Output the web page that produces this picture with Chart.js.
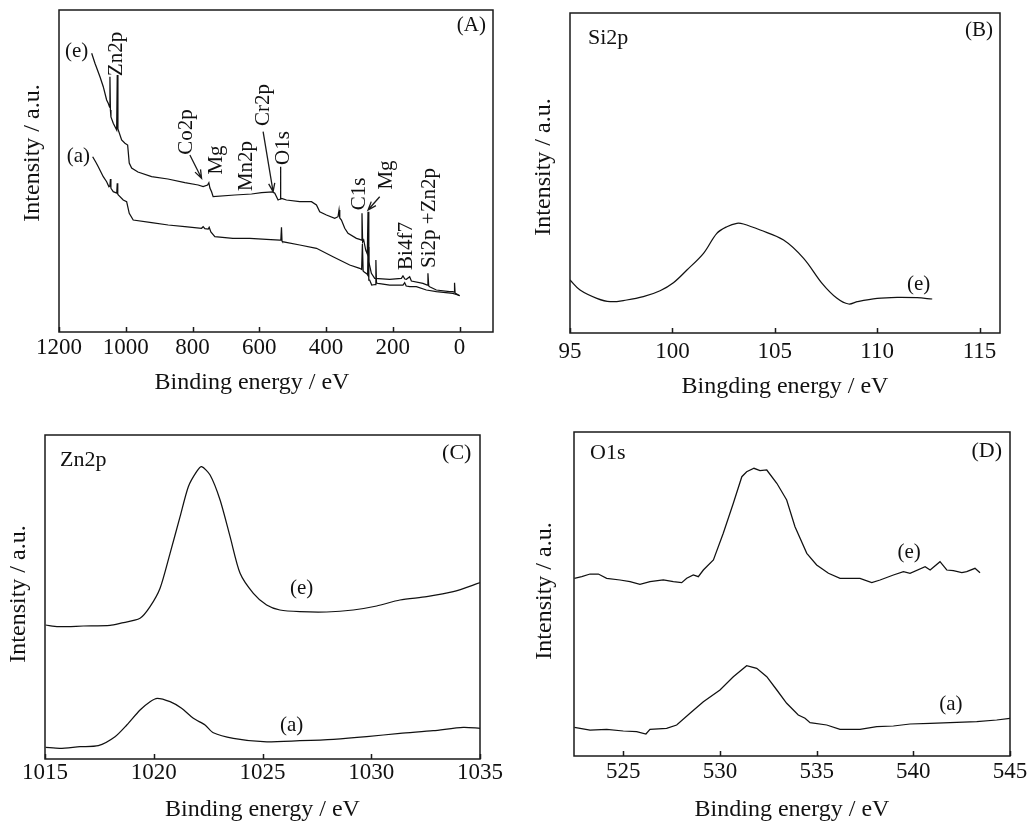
<!DOCTYPE html>
<html><head><meta charset="utf-8">
<script src="https://cdn.jsdelivr.net/npm/chart.js@4.4.1/dist/chart.umd.min.js"></script>
<style>
html,body{margin:0;padding:0;background:#fff;overflow:hidden;width:1027px;height:824px;position:relative;}
canvas{position:absolute;}
</style></head><body>
<canvas id="cA" width="510" height="402" style="left:0;top:0"></canvas>
<canvas id="cB" width="517" height="402" style="left:510px;top:0"></canvas>
<canvas id="cC" width="510" height="424" style="left:0;top:400px"></canvas>
<canvas id="cD" width="540" height="424" style="left:510px;top:400px"></canvas>
<script>
const FONT = "'Liberation Serif','Times New Roman',serif";

// ---------- Panel A: survey spectra ----------
const A_TICKS = [1200, 1000, 800, 600, 400, 200, 0];
const A_E_X = [1102.1,1092.3,1077.3,1067.4,1057.3,1052.5,1048.5,1047.4,1046,1044.4,1037.5,1027.3,1025.5,1023.5,1012.4,1002.5,994.4,989.6,982.4,963.6,922.6,873.8,823,783.1,768.2,755,751.1,748,743,738.3,673.3,623.3,593.4,559.6,553.6,543.8,537.5,536.6,535.5,533.6,518.6,478.8,443.8,428.8,419,398.9,374.1,364.2,361.2,359,354,344.1,334.3,309.1,299.3,294,292.4,290.5,287.3,281.3,276.5,274.4,272,269.3,264.3,254.4,209.5,174.5,169.7,164,159.5,149.6,144.5,109.8,97,94.9,92.5,89.8,69.7,30,20.2,16.5,15.2,13.5,12.2,0];
const A_E_Y = [278.7,268.7,255.3,245.3,232,228.7,225,255.3,222,215,208.7,202,257,203,192,188.7,187,169,164,160,155.3,153,149.3,147,145.3,147,149.3,144,140.3,135.3,137,138,139.3,140,138.7,132,133,165.3,134,133.7,132,130.3,130.3,127,120.3,117,113.7,115.3,122,114,112,103.7,98.7,93.7,92.7,92,118.7,90,92,82,78,120.3,70,66,58.7,53.7,52.7,53.7,56,53,52.7,55.3,51,48.7,47,58.7,46,45.3,42,40.3,40.3,40,49.3,39,38.7,36.3];
const A_A_X = [1099.2,1090,1082.4,1067.4,1057.3,1050.4,1047.5,1045.9,1044.5,1042.9,1037.5,1027,1025.5,1024,1022.5,1007.6,997.4,989.6,977.7,922.6,872.9,823,773,768.2,763.1,753,750.2,745.1,733.2,679.3,628.4,578.5,538.7,535.5,533.6,532,530.6,478.8,428.8,379.2,329.2,299.3,293.5,291.2,289,285.8,277.4,275.5,274.4,272,269.5,263.3,253,250.8,249,244.5,209.5,169.7,164.6,160,149.6,129.6,99.6,69.7,20.2,5.1,0];
const A_A_Y = [175.3,170,165.3,155.3,150.3,145.3,146,153,144,143,140.3,139,148.7,138,137,132,130.3,118.7,112,109.3,107,105.3,103.7,105.3,103.3,103,104.7,100,95.3,93.7,93.7,92.7,92,92,104.7,91,90.3,87,83.7,75.3,67,63.7,62.5,88,61,60,58,57,85,52,52,47,47.5,72,49,48.7,47,47,49.3,46,45.3,45.3,42,40.3,38.7,37,36.3];
const A_LBL_TEXT = ['Zn2p','Co2p','Mg','Mn2p','Cr2p','O1s','C1s','Mg','Bi4f7','Si2p +Zn2p'];
const A_LBL_X = [1027.3,817.9,728.1,638.3,588.6,528.8,301.4,219.4,159.5,89.8];
const A_LBL_Y = [278,200,172,166,227,184,138,157,86,114];
const A_ARROWS = [[808,177,773,153.7],[588.6,200.3,558.7,140.3],[239.4,135.3,274.4,122]];

// ---------- Panel B: Si2p ----------
const B_TICKS = [95, 100, 105, 110, 115];
const B_E_X = [95.0,95.49,96.31,96.96,97.77,98.58,99.40,100.05,100.71,101.52,102.17,102.66,103.15,103.47,104.29,105.43,106.41,107.31,108.04,108.61,109.02,110.0,110.98,111.95,112.69];
const B_E_Y = [53,43,34.7,31.3,33,36.3,42.3,50.3,63,79.7,99.7,106.3,109.7,109,103,93,74.7,49.7,34.7,29,31.3,34.7,35.7,35.3,34];

// ---------- Panel C: Zn2p ----------
const C_TICKS = [1015, 1020, 1025, 1030, 1035];
const C_E_X = [1015.03,1015.61,1016.76,1017.99,1018.45,1019.37,1019.83,1020.29,1020.75,1021.21,1021.59,1021.97,1022.20,1022.59,1023.05,1023.51,1023.97,1024.58,1025.19,1025.80,1026.72,1027.95,1029.17,1030.25,1031.32,1032.55,1033.77,1035.0];
const C_E_Y = [134,132.3,133,133.7,135.7,140.7,152.3,170.7,205.7,242.3,272.3,287.3,292.3,284,259,222.3,185.7,165.7,154,149,147.3,147,149,153,159,162.3,167.3,176.3];
const C_A_X = [1015.03,1015.69,1016.61,1017.45,1018.22,1018.76,1019.37,1019.83,1020.16,1020.75,1021.28,1021.82,1022.36,1022.74,1023.66,1025.04,1026.72,1028.26,1029.79,1031.32,1032.85,1034.23,1035.0];
const C_A_Y = [11.7,10.7,12.3,13.3,22.3,34,49,57.3,60.7,57.3,50.7,40.7,34,26.3,20.7,17.3,18.3,19.7,22.3,25.7,28.3,31.7,30.7];

// ---------- Panel D: O1s ----------
const D_TICKS = [525, 530, 535, 540, 545];
const D_E_X = [522.47,522.85,523.28,523.71,524.14,524.83,525.35,525.86,526.38,527.07,527.59,528.02,528.28,528.62,528.88,529.14,529.66,530.17,530.69,531.13,531.38,531.76,532.07,532.42,532.94,533.45,533.88,534.49,535.0,535.61,536.21,537.24,537.85,538.28,538.97,539.49,539.83,540.61,540.87,541.38,541.73,542.07,542.51,542.76,543.19,543.45];
const D_E_Y = [177.7,179.3,182,182,177.7,176,174.3,171.7,174.3,176,174.3,173.3,177.7,181,179.3,186,196,222.7,252.7,279.3,284.3,287.7,285.3,286,272.7,256,229.3,202.7,191,182.7,177.7,177.7,173.3,176,181,184.3,182.7,189.3,186,194.3,186,185.3,183.3,184.3,187.7,183.3];
const D_A_X = [522.47,523.28,524.14,525.0,525.69,526.17,526.38,527.24,527.76,528.45,529.14,530.0,530.69,531.38,531.9,532.42,532.94,533.45,534.05,534.4,534.66,535.52,536.21,537.24,538.11,538.97,539.83,540.87,541.9,543.28,544.31,545.0];
const D_A_Y = [28.7,26,26.7,25,24.3,22,26.7,27.7,31,42.7,54.3,66,79.3,90.3,87.7,79.3,66,52.7,41,37.7,33.3,31,26.7,26.7,29.3,30,32,32.7,33.3,34.3,36,37.7];

const frame = {
  id: 'frame',
  afterDatasetsDraw(chart, args, opts) {
    const {ctx, chartArea: a, scales: {x, y}} = chart;
    ctx.save();
    ctx.strokeStyle = '#1a1a1a';
    ctx.lineWidth = 1.5;
    ctx.strokeRect(a.left, a.top, a.right - a.left, a.bottom - a.top);
    ctx.beginPath();
    x.ticks.forEach(t => {
      const px = Math.round(x.getPixelForValue(t.value)) + 0.5;
      ctx.moveTo(px, a.bottom); ctx.lineTo(px, a.bottom - 5);
    });
    ctx.stroke();
    ctx.fillStyle = '#111';
    ctx.textBaseline = 'middle';
    (opts.labels || []).forEach(l => {
      ctx.save();
      ctx.translate(x.getPixelForValue(l.x), y.getPixelForValue(l.y));
      if (l.rot) ctx.rotate(-Math.PI / 2);
      ctx.textAlign = l.align || 'center';
      ctx.font = (l.size || 21) + 'px ' + FONT;
      ctx.fillText(l.text, 0, 0);
      ctx.restore();
    });
    ctx.lineWidth = 1.3;
    (opts.arrows || []).forEach(ar => {
      const x1 = x.getPixelForValue(ar[0]), y1 = y.getPixelForValue(ar[1]);
      const x2 = x.getPixelForValue(ar[2]), y2 = y.getPixelForValue(ar[3]);
      const ang = Math.atan2(y2 - y1, x2 - x1);
      ctx.beginPath();
      ctx.moveTo(x1, y1); ctx.lineTo(x2, y2);
      ctx.moveTo(x2 - 9 * Math.cos(ang - 0.35), y2 - 9 * Math.sin(ang - 0.35));
      ctx.lineTo(x2, y2);
      ctx.lineTo(x2 - 9 * Math.cos(ang + 0.35), y2 - 9 * Math.sin(ang + 0.35));
      ctx.stroke();
    });
    ctx.restore();
  }
};

function series(xs, ys, tension) {
  return {
    data: xs.map((v, i) => ({x: v, y: ys[i]})),
    borderColor: '#111', borderWidth: 1.25, pointRadius: 0, tension: tension || 0, fill: false
  };
}

function makeChart(id, c) {
  return new Chart(document.getElementById(id), {
    type: 'line',
    data: {datasets: c.datasets},
    options: {
      responsive: false, animation: false, events: [],
      layout: {padding: c.pad},
      plugins: {legend: {display: false}, tooltip: {enabled: false}, frame: {labels: c.labels, arrows: c.arrows}},
      scales: {
        x: {
          type: 'linear', min: c.xmin, max: c.xmax, reverse: !!c.reverse,
          grid: {display: false, drawTicks: false}, border: {display: false},
          ticks: {font: {family: FONT, size: 23}, color: '#111', padding: c.tickPad, maxRotation: 0, autoSkip: false,
                  callback: v => String(v)},
          afterBuildTicks: s => { s.ticks = c.ticks.map(v => ({value: v})); },
          afterFit: s => { s.height = c.xh; },
          title: {display: true, text: c.xtitle, color: '#111', font: {family: FONT, size: 24},
                  padding: {top: 0, bottom: c.xtPad}}
        },
        y: {
          type: 'linear', min: 0, max: c.ymax,
          grid: {display: false, drawTicks: false}, border: {display: false},
          ticks: {display: false},
          afterFit: s => { s.width = c.yw; },
          title: {display: true, text: c.ytitle, color: '#111', font: {family: FONT, size: 24},
                  padding: {top: c.ytPad, bottom: 0}}
        }
      }
    },
    plugins: [frame]
  });
}

const aLabels = A_LBL_TEXT.map((t, i) => ({text: t, x: A_LBL_X[i], y: A_LBL_Y[i], rot: true}));
aLabels.push({text: '(e)', x: 1147, y: 280.3});
aLabels.push({text: '(a)', x: 1142.2, y: 175.3});
aLabels.push({text: '(A)', x: -35, y: 307});

makeChart('cA', {
  datasets: [series(A_E_X, A_E_Y), series(A_A_X, A_A_Y)],
  pad: {top: 10, right: 17, left: 0, bottom: 0},
  xmin: -100, xmax: 1200, reverse: true, ticks: A_TICKS, ymax: 322,
  xh: 70, yw: 59, tickPad: 2.4, xtPad: 4.6, ytPad: 18.6,
  xtitle: 'Binding energy / eV        ', ytitle: '      Intensity / a.u.',
  labels: aLabels, arrows: A_ARROWS
});

makeChart('cB', {
  datasets: [series(B_E_X, B_E_Y, 0.35)],
  pad: {top: 13, right: 27, left: 0, bottom: 0},
  xmin: 95, xmax: 116, ticks: B_TICKS, ymax: 320,
  xh: 69, yw: 60, tickPad: 4.9, xtPad: 0.9, ytPad: 19.6,
  xtitle: 'Bingding energy / eV', ytitle: '  Intensity / a.u.',
  labels: [
    {text: 'Si2p', x: 95.88, y: 294.7, align: 'left', size: 22},
    {text: '(B)', x: 114.97, y: 302.3, size: 21},
    {text: '(e)', x: 112.03, y: 49, size: 21}
  ]
});

makeChart('cC', {
  datasets: [series(C_E_X, C_E_Y, 0.25), series(C_A_X, C_A_Y, 0.25)],
  pad: {top: 35, right: 30, left: 0, bottom: 0},
  xmin: 1015, xmax: 1035, ticks: C_TICKS, ymax: 324,
  xh: 65, yw: 45, tickPad: 0.5, xtPad: 0, ytPad: 3.9,
  xtitle: 'Binding energy / eV', ytitle: ' Intensity / a.u.',
  labels: [
    {text: 'Zn2p', x: 1015.69, y: 298.3, align: 'left', size: 22},
    {text: '(C)', x: 1033.93, y: 305.7, size: 22},
    {text: '(e)', x: 1026.8, y: 170.7, size: 21},
    {text: '(a)', x: 1026.34, y: 34, size: 21}
  ]
});

makeChart('cD', {
  datasets: [series(D_E_X, D_E_Y), series(D_A_X, D_A_Y)],
  pad: {top: 32, right: 40, left: 0, bottom: 0},
  xmin: 522.45, xmax: 545, ticks: D_TICKS, ymax: 324,
  xh: 68, yw: 64, tickPad: 1.9, xtPad: 0, ytPad: 20.6,
  xtitle: 'Binding energy / eV', ytitle: ' Intensity / a.u.',
  labels: [
    {text: 'O1s', x: 523.28, y: 302.7, align: 'left', size: 22},
    {text: '(D)', x: 543.8, y: 304.3, size: 22},
    {text: '(e)', x: 539.78, y: 203.7, size: 21},
    {text: '(a)', x: 541.94, y: 52, size: 21}
  ]
});
</script>
</body></html>
